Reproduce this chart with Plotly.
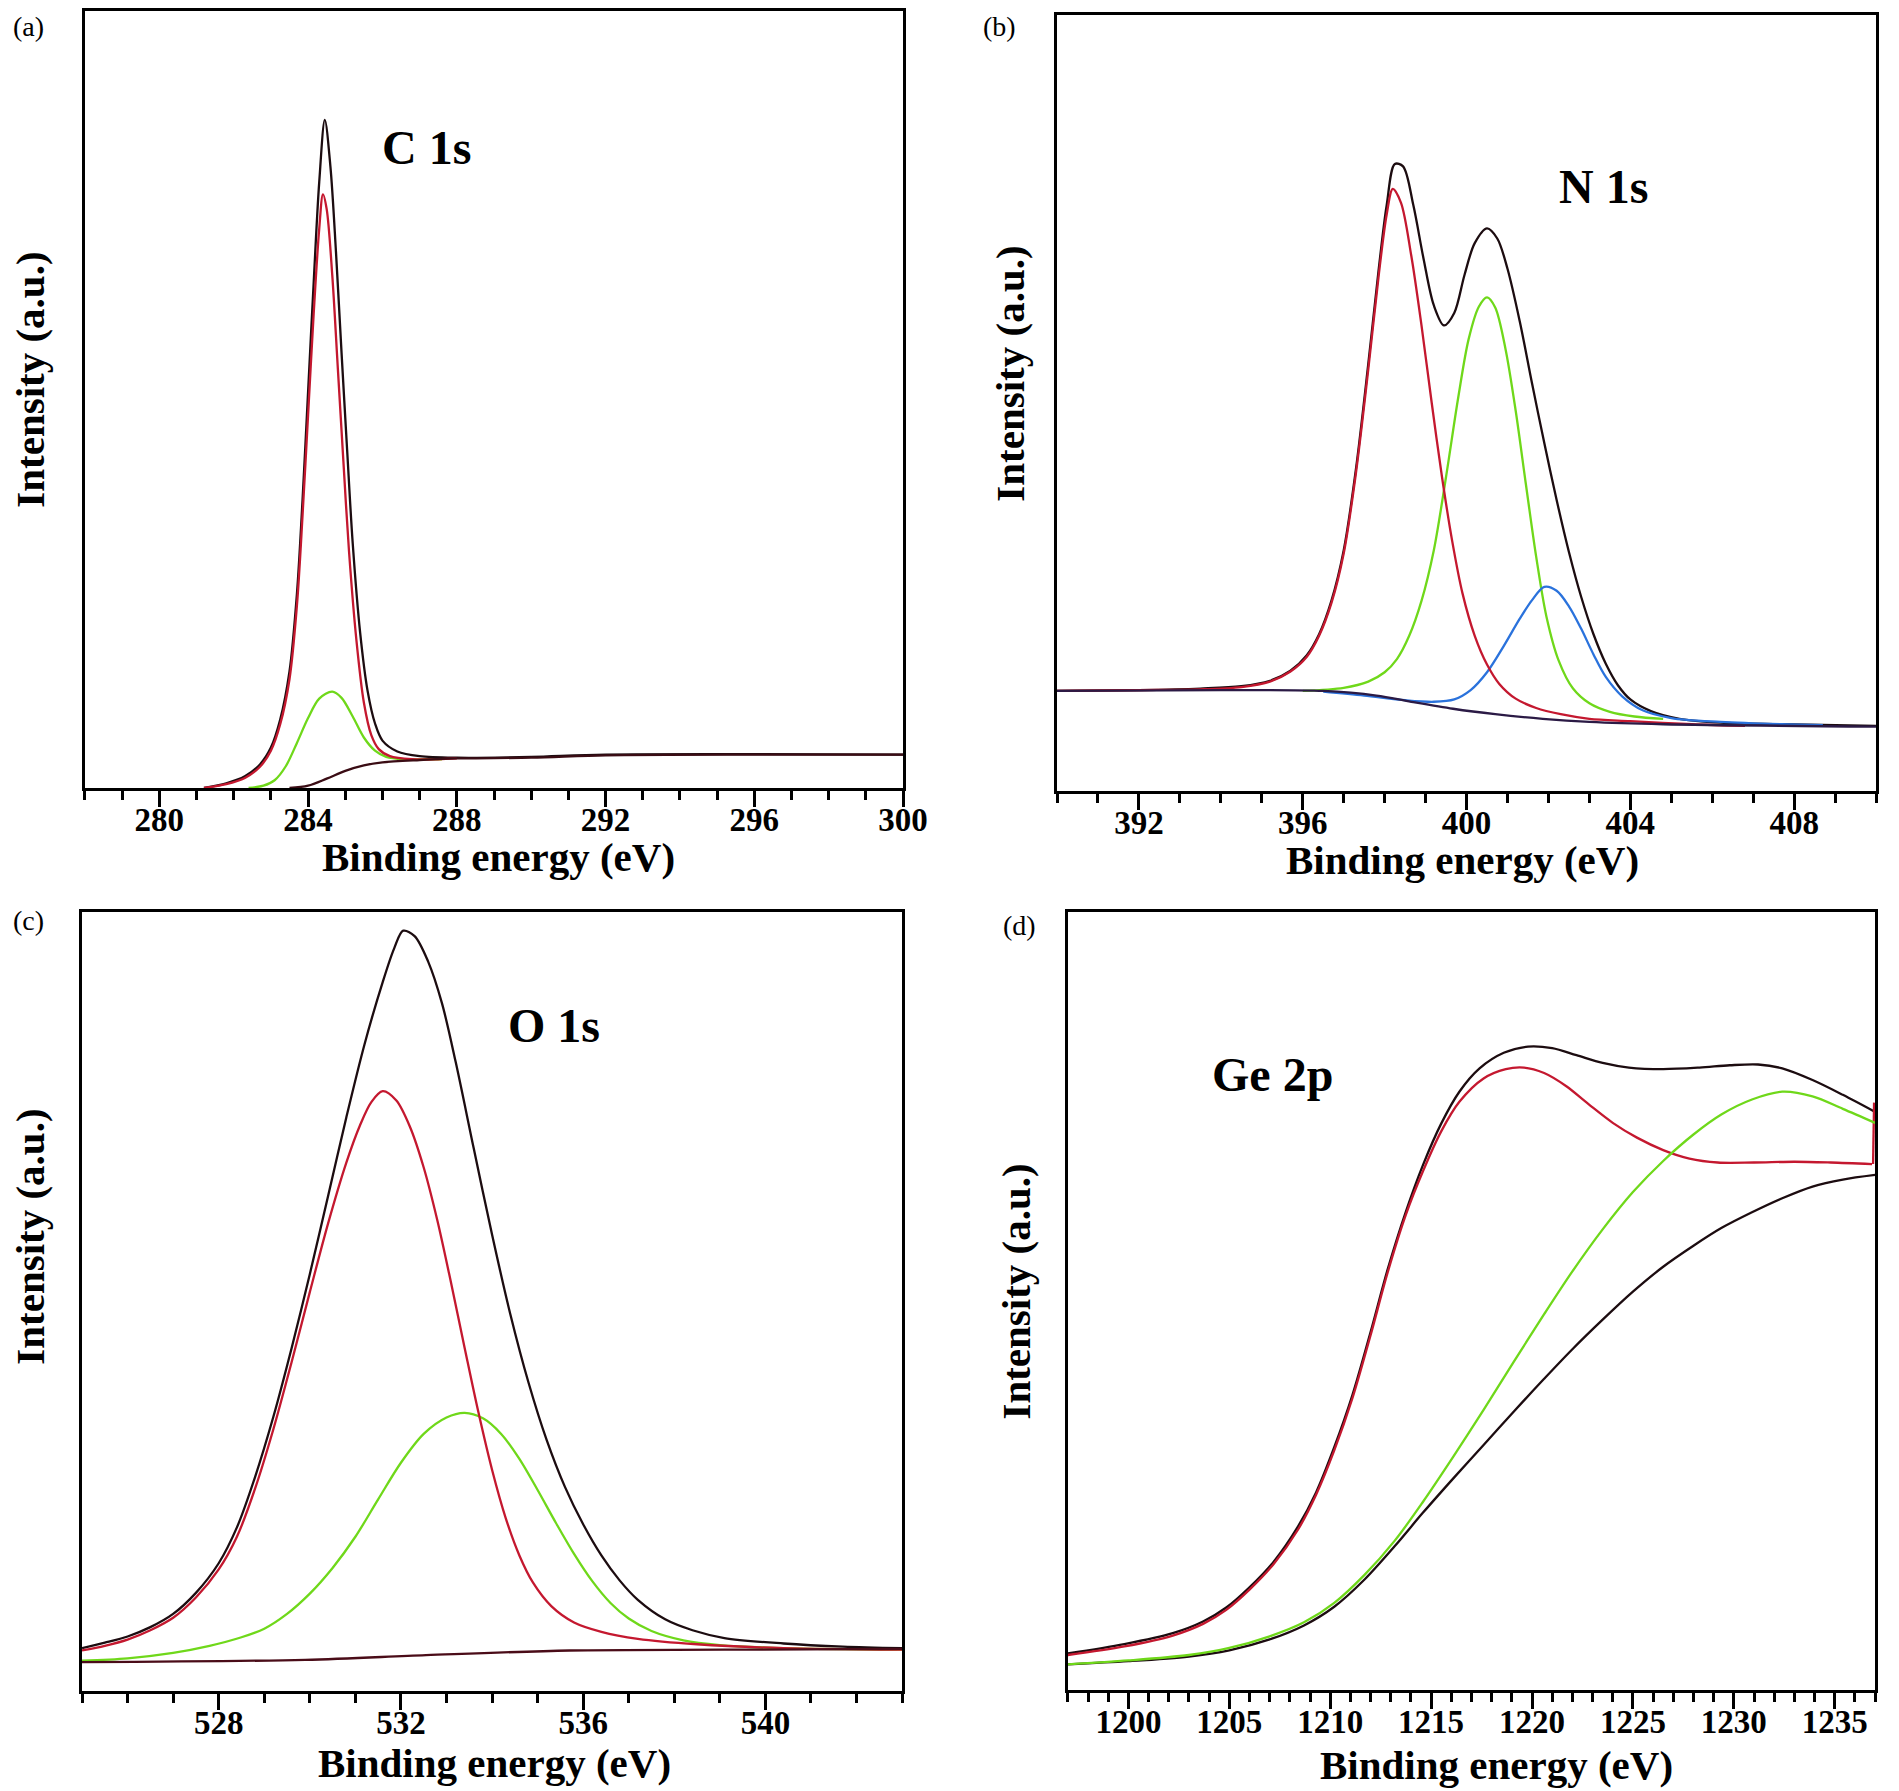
import plotly.graph_objects as go

# ---------------- Panel (a) C 1s ----------------
a_env_x = [281.2, 281.8, 282.3, 282.7, 283.0, 283.25, 283.5, 283.7, 283.85, 284.0, 284.15, 284.3, 284.45,
           284.6, 284.75, 284.9, 285.05, 285.2, 285.4, 285.6, 285.8, 286.0, 286.4, 287.0, 288.0, 290.0, 292.0, 300.0]
a_env_y = [0.0, 0.6, 1.5, 3.0, 5.2, 8.8, 15.0, 25.0, 37.0, 51.0, 65.0, 78.0, 86.0,
           80.0, 69.0, 56.0, 43.5, 31.5, 20.0, 12.5, 8.3, 6.1, 4.7, 4.1, 3.9, 4.0, 4.3, 4.3]
a_red_x = [281.2, 281.8, 282.3, 282.7, 283.0, 283.25, 283.5, 283.7, 283.85, 284.0, 284.15, 284.3, 284.4,
           284.5, 284.65, 284.8, 284.95, 285.1, 285.3, 285.5, 285.7, 285.9, 286.2, 286.8, 287.5, 288.0]
a_red_y = [0.0, 0.5, 1.3, 2.7, 4.8, 8.2, 14.0, 23.5, 35.0, 48.0, 61.0, 72.0, 76.4,
           74.5, 66.0, 54.0, 42.0, 30.5, 19.0, 11.0, 6.8, 5.0, 4.1, 3.7, 3.7, 3.8]
a_grn_x = [282.4, 282.8, 283.1, 283.4, 283.7, 284.0, 284.3, 284.65, 284.9, 285.2, 285.5, 285.8, 286.1, 286.6, 287.2, 287.6]
a_grn_y = [0.0, 0.3, 1.0, 2.8, 5.8, 9.0, 11.5, 12.4, 11.6, 9.2, 6.5, 4.8, 4.0, 3.7, 3.7, 3.7]
a_base_x = [283.5, 284.0, 284.5, 285.0, 285.5, 286.0, 287.0, 288.0, 290.0, 292.0, 296.0, 300.0]
a_base_y = [0.0, 0.3, 1.2, 2.2, 2.9, 3.3, 3.6, 3.8, 3.9, 4.2, 4.3, 4.3]

# ---------------- Panel (b) N 1s ----------------
b_env_x = [390.0, 392.0, 393.5, 394.5, 395.2, 395.7, 396.1, 396.4, 396.7, 397.0, 397.3, 397.6, 397.85, 398.05,
           398.25, 398.45, 398.7, 398.95, 399.2, 399.45, 399.7, 399.95, 400.2, 400.5, 400.75, 401.0, 401.3,
           401.6, 401.9, 402.2, 402.5, 402.8, 403.1, 403.4, 403.7, 404.0, 404.5, 405.2, 406.2, 407.7, 410.0]
b_env_y = [12.9, 13.0, 13.2, 13.5, 14.2, 15.5, 17.5, 20.2, 24.5, 31.0, 41.5, 55.0, 67.0, 75.5,
           80.8, 80.5, 75.5, 68.6, 62.6, 60.0, 61.6, 66.5, 70.6, 72.5, 71.2, 67.3, 60.5,
           52.5, 44.8, 37.5, 30.8, 25.0, 20.2, 16.4, 13.6, 11.8, 10.3, 9.3, 8.8, 8.6, 8.4]
b_red_x = [390.0, 392.0, 393.5, 394.5, 395.2, 395.7, 396.1, 396.4, 396.7, 397.0, 397.3, 397.6, 397.85, 398.05,
           398.2, 398.4, 398.65, 398.9, 399.15, 399.4, 399.65, 399.9, 400.2, 400.5, 400.8, 401.2, 401.7,
           402.3, 403.0, 404.0, 405.5, 406.8]
b_red_y = [12.9, 13.0, 13.1, 13.4, 14.1, 15.4, 17.3, 20.0, 24.2, 30.6, 41.0, 54.3, 66.2, 74.3,
           77.6, 75.8, 69.0, 60.0, 50.0, 40.5, 32.2, 25.5, 20.0, 16.3, 13.8, 11.9, 10.7,
           9.9, 9.3, 9.0, 8.6, 8.4]
b_grn_x = [396.0, 397.0, 397.6, 398.0, 398.3, 398.6, 398.9, 399.2, 399.5, 399.8, 400.05, 400.3, 400.5,
           400.7, 400.95, 401.2, 401.45, 401.7, 401.95, 402.25, 402.6, 403.0, 403.5, 404.1, 404.8]
b_grn_y = [12.9, 13.3, 14.1, 15.3, 17.0, 20.0, 24.5, 31.0, 40.5, 50.8, 58.2, 62.4, 63.6,
           62.3, 57.0, 49.0, 39.5, 30.2, 22.5, 16.8, 13.2, 11.3, 10.2, 9.6, 9.3]
b_blu_x = [396.5, 397.5, 398.5, 399.2, 399.7, 400.1, 400.5, 400.9, 401.3, 401.6, 401.9, 402.2, 402.5,
           402.8, 403.1, 403.4, 403.8, 404.3, 405.0, 406.2, 407.7, 408.7]
b_blu_y = [12.8, 12.3, 11.7, 11.5, 11.8, 13.0, 15.3, 18.6, 22.2, 24.6, 26.3, 25.8, 23.8,
           20.9, 17.6, 14.7, 12.2, 10.4, 9.4, 8.9, 8.6, 8.5]
b_base_x = [390.0, 394.0, 396.5, 397.8, 398.65, 399.67, 400.7, 401.86, 403.0, 404.8, 410.0]
b_base_y = [12.9, 13.0, 12.9, 12.3, 11.5, 10.6, 9.9, 9.3, 8.9, 8.6, 8.3]

# ---------------- Panel (c) O 1s ----------------
c_env_x = [525.0, 525.5, 526.0, 526.5, 527.0, 527.5, 528.0, 528.4, 528.8, 529.2, 529.6, 530.0, 530.4, 530.8,
           531.2, 531.6, 531.85, 532.05, 532.3, 532.6, 532.9, 533.2, 533.6, 534.0, 534.4, 534.8, 535.2,
           535.6, 536.0, 536.4, 536.8, 537.2, 537.8, 538.4, 539.1, 540.4, 541.7, 543.0]
c_env_y = [5.5, 6.2, 7.0, 8.2, 9.9, 12.6, 16.4, 21.0, 27.5, 35.2, 44.0, 53.5, 63.5, 73.6,
           83.0, 91.0, 95.3, 97.6, 96.9, 93.6, 88.3, 80.8, 69.6, 58.6, 48.4, 39.6, 32.2,
           26.2, 21.4, 17.4, 14.2, 11.7, 9.2, 7.8, 6.8, 6.1, 5.7, 5.5]
c_red_x = [525.0, 525.5, 526.0, 526.5, 527.0, 527.5, 528.0, 528.4, 528.8, 529.2, 529.6, 530.0, 530.4, 530.8,
           531.1, 531.35, 531.6, 531.9, 532.2, 532.5, 532.8, 533.1, 533.4, 533.7, 534.0, 534.3, 534.6,
           534.9, 535.3, 535.8, 536.4, 537.2, 538.5, 540.4, 543.0]
c_red_y = [5.2, 5.8, 6.6, 7.8, 9.4, 12.0, 15.6, 19.8, 26.0, 33.6, 42.2, 51.2, 60.0, 67.8,
           72.6, 75.6, 77.0, 75.8, 72.4, 67.2, 60.4, 52.4, 44.0, 35.8, 28.4, 22.2, 17.4,
           13.9, 10.9, 8.8, 7.6, 6.7, 6.0, 5.5, 5.3]
c_grn_x = [525.0, 526.0, 527.0, 527.8, 528.5, 529.0, 529.5, 530.0, 530.5, 531.0, 531.5, 532.0, 532.5, 533.0,
           533.4, 533.8, 534.2, 534.6, 535.0, 535.4, 535.8, 536.2, 536.6, 537.0, 537.5, 538.2, 539.0, 540.4, 543.0]
c_grn_y = [3.9, 4.2, 4.9, 5.8, 6.9, 8.0, 9.9, 12.5, 15.8, 19.8, 24.6, 29.3, 33.0, 35.1,
           35.7, 35.0, 33.0, 29.8, 25.8, 21.6, 17.6, 14.1, 11.3, 9.3, 7.7, 6.5, 5.9, 5.5, 5.3]
c_base_x = [525.0, 529.9, 532.55, 535.7, 539.1, 543.0]
c_base_y = [3.7, 4.0, 4.6, 5.2, 5.3, 5.4]

# ---------------- Panel (d) Ge 2p ----------------
d_env_x = [1197.0, 1199.8, 1202.2, 1203.7, 1204.85, 1206.0, 1207.2, 1208.4, 1209.3, 1210.2, 1211.1, 1212.0,
           1212.85, 1213.75, 1214.6, 1215.5, 1216.4, 1217.4, 1218.6, 1219.8, 1221.0, 1222.2, 1223.5,
           1224.8, 1226.5, 1228.3, 1229.8, 1231.2, 1232.4, 1233.9, 1235.4, 1237.0]
d_env_y = [4.7, 5.9, 7.3, 8.8, 10.6, 13.2, 16.5, 21.0, 25.4, 31.2, 37.9, 46.0,
           54.1, 61.5, 67.5, 72.8, 76.9, 79.9, 81.9, 82.7, 82.5, 81.6, 80.6,
           80.0, 79.8, 80.0, 80.3, 80.4, 79.9, 78.4, 76.5, 74.3]
d_red_x = [1197.0, 1199.8, 1202.2, 1203.7, 1204.85, 1206.0, 1207.2, 1208.4, 1209.3, 1210.2, 1211.1, 1212.0,
           1212.85, 1213.75, 1214.6, 1215.5, 1216.4, 1217.6, 1218.7, 1219.6, 1220.6, 1221.7, 1222.8,
           1224.0, 1225.2, 1226.5, 1227.8, 1229.2, 1231.0, 1233.0, 1234.8, 1236.85]
d_red_y = [4.5, 5.6, 7.0, 8.5, 10.3, 12.9, 16.2, 20.6, 25.1, 30.8, 37.5, 45.6,
           53.7, 61.1, 66.7, 71.8, 75.6, 78.6, 79.8, 80.0, 79.3, 77.6, 75.3,
           72.9, 71.0, 69.4, 68.3, 67.8, 67.8, 67.9, 67.8, 67.6]
d_red_edge_x = [1236.9, 1236.95]
d_red_edge_y = [67.6, 75.5]
d_grn_x = [1197.0, 1200.0, 1203.0, 1205.0, 1207.0, 1208.7, 1210.2, 1211.7, 1213.2, 1214.6, 1216.1, 1217.6,
           1219.1, 1220.6, 1222.0, 1223.5, 1225.0, 1226.5, 1228.0, 1229.4, 1230.9, 1232.4, 1233.9, 1235.4, 1237.0]
d_grn_y = [3.3, 3.8, 4.5, 5.4, 6.9, 8.7, 11.2, 14.8, 19.2, 24.2, 30.0, 36.0,
           42.2, 48.3, 53.8, 59.2, 64.0, 68.0, 71.4, 74.0, 75.9, 76.9, 76.3, 74.7, 72.9]
d_base_x = [1197.0, 1200.0, 1203.0, 1205.0, 1207.0, 1208.7, 1210.2, 1211.7, 1213.2, 1214.6, 1216.1, 1217.6,
            1219.1, 1220.6, 1222.0, 1223.5, 1225.0, 1226.5, 1228.0, 1229.4, 1230.9, 1232.4, 1233.9, 1235.4, 1237.0]
d_base_y = [3.3, 3.7, 4.3, 5.1, 6.5, 8.3, 10.7, 14.2, 18.5, 22.8, 27.2, 31.5,
            35.8, 40.0, 43.8, 47.6, 51.2, 54.4, 57.1, 59.4, 61.4, 63.2, 64.7, 65.6, 66.2]

# tick settings (tick0, dtick, range)
x_ranges = {"a": [278, 300], "b": [390, 410], "c": [525, 543], "d": [1197, 1237]}
x_tick0 = {"a": 280, "b": 392, "c": 528, "d": 1200}
x_dtick = {"a": 4, "b": 4, "c": 4, "d": 5}

panel_labels = ["(a)", "(b)", "(c)", "(d)"]
peak_labels = ["C 1s", "N 1s", "O 1s", "Ge 2p"]
x_title = "Binding energy (eV)"
y_title = "Intensity (a.u.)"

BLACK = "#1c0c10"
RED = "#c4182f"
GREEN = "#6fd81a"
BLUE = "#2a72dc"
W = 1899
H = 1791
FONT = "Liberation Serif"

fig = go.Figure()


def add(x, y, color, ax, shape="spline", width=2.3):
    fig.add_trace(go.Scatter(x=x, y=y, mode="lines",
                             line=dict(color=color, width=width, shape=shape, smoothing=0.9),
                             xaxis="x" + ax, yaxis="y" + ax, showlegend=False, hoverinfo="skip"))


# (a)
add(a_env_x, a_env_y, BLACK, "")
add(a_grn_x, a_grn_y, GREEN, "")
add(a_red_x, a_red_y, RED, "")
add(a_base_x, a_base_y, "#3a0c14", "")
# (b)
add(b_env_x, b_env_y, BLACK, "2")
add(b_grn_x, b_grn_y, GREEN, "2")
add(b_blu_x, b_blu_y, BLUE, "2")
add(b_red_x, b_red_y, RED, "2")
add(b_base_x, b_base_y, "#2b1a45", "2")
# (c)
add(c_env_x, c_env_y, BLACK, "3")
add(c_grn_x, c_grn_y, GREEN, "3")
add(c_red_x, c_red_y, RED, "3")
add(c_base_x, c_base_y, "#4a0c18", "3")
# (d)
add(d_env_x, d_env_y, BLACK, "4")
add(d_red_x, d_red_y, RED, "4")
add(d_red_edge_x, d_red_edge_y, RED, "4", shape="linear")
add(d_base_x, d_base_y, BLACK, "4")
add(d_grn_x, d_grn_y, GREEN, "4")

# frame boxes in pixels: left, right, top, bottom
boxes = {"a": (78, 907, 3, 780), "b": (1063, 1893, 7, 783), "c": (75, 906, 904, 1683), "d": (1074, 1892, 904, 1682)}
keys = ["a", "b", "c", "d"]
layout = dict(width=W, height=H, margin=dict(l=0, r=0, t=0, b=0),
              paper_bgcolor="white", plot_bgcolor="white", showlegend=False)
for i, k in enumerate(keys):
    l, r, t, b = boxes[k]
    sfx = "" if i == 0 else str(i + 1)
    anchor = "y" + sfx
    layout["xaxis" + sfx] = dict(
        domain=[l / W, r / W], range=x_ranges[k], anchor=anchor,
        showline=True, mirror=True, linecolor="black", linewidth=3,
        ticks="outside", ticklen=16, tickwidth=3, tickcolor="black",
        tickmode="linear", tick0=x_tick0[k], dtick=x_dtick[k],
        minor=dict(ticks="outside", ticklen=9, tickwidth=2.5, tickcolor="black", tick0=x_tick0[k], dtick=1),
        showgrid=False, zeroline=False, ticklabelstandoff=-16,
        tickfont=dict(family=FONT, size=33, color="black", weight="bold"),
    )
    layout["yaxis" + sfx] = dict(
        domain=[1 - b / H, 1 - t / H], range=[0, 100], anchor="x" + sfx,
        showline=True, mirror=True, linecolor="black", linewidth=3,
        showticklabels=False, ticks="", showgrid=False, zeroline=False,
    )

annotations = []
label_pos = [(21, 18), (1005, 18), (21, 912), (1025, 917)]
peak_pos = [(424, 139), (1617, 179), (553, 1017), (1281, 1066)]
xt_pos = [(497, 849), (1474, 852), (493, 1755), (1508, 1757)]
yt_pos = [(22, 372), (1015, 366), (22, 1229), (1021, 1284)]
for i in range(4):
    px, py = label_pos[i]
    annotations.append(dict(text=panel_labels[i], x=px / W, y=1 - py / H, xref="paper", yref="paper",
                            showarrow=False, xanchor="center", yanchor="middle",
                            font=dict(family=FONT, size=28, color="black")))
    px, py = peak_pos[i]
    annotations.append(dict(text=peak_labels[i], x=px / W, y=1 - py / H, xref="paper", yref="paper",
                            showarrow=False, xanchor="center", yanchor="middle",
                            font=dict(family=FONT, size=48, color="black", weight="bold")))
    px, py = xt_pos[i]
    annotations.append(dict(text=x_title, x=px / W, y=1 - py / H, xref="paper", yref="paper",
                            showarrow=False, xanchor="center", yanchor="middle",
                            font=dict(family=FONT, size=41, color="black", weight="bold")))
    px, py = yt_pos[i]
    annotations.append(dict(text=y_title, x=px / W, y=1 - py / H, xref="paper", yref="paper",
                            showarrow=False, xanchor="center", yanchor="middle", textangle=-90,
                            font=dict(family=FONT, size=41, color="black", weight="bold")))
layout["annotations"] = annotations
fig.update_layout(**layout)
fig.write_html("out.html")
